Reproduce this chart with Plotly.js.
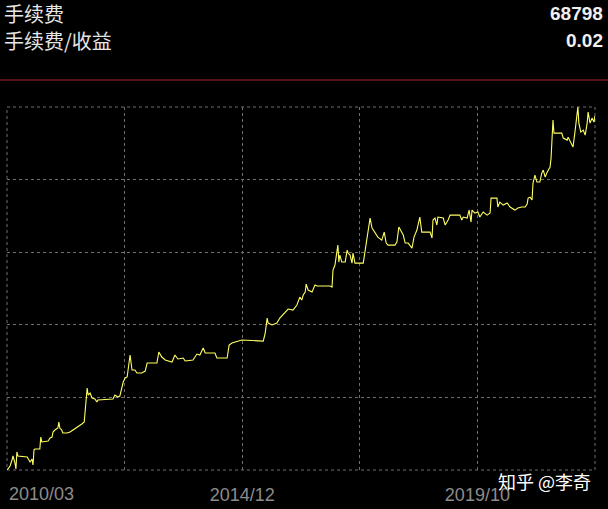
<!DOCTYPE html>
<html>
<head>
<meta charset="utf-8">
<script src="https://cdn.plot.ly/plotly-3.0.1.min.js"></script>
<style>
  html, body { margin: 0; padding: 0; background: #000; }
  #chart { width: 608px; height: 509px; }
</style>
</head>
<body>
<div id="chart"></div>
<script>
// Decimal year of each sample
const years = [2010.17,2010.23,2010.27,2010.29,2010.33,2010.35,2010.37,2010.39,2010.58,2010.64,
2010.68,2010.70,2010.71,2010.72,2010.74,2010.84,2010.86,2010.88,2011.01,2011.05,
2011.09,2011.11,2011.15,2011.21,2011.23,2011.25,2011.29,2011.31,2011.40,2011.46,
2011.52,2011.62,2011.70,2011.75,2011.77,2011.81,2011.83,2011.87,2011.91,2011.97,
2012.01,2012.03,2012.34,2012.38,2012.44,2012.48,2012.55,2012.59,2012.63,2012.69,
2012.73,2012.79,2012.83,2012.93,2013.00,2013.04,2013.24,2013.28,2013.34,2013.41,
2013.55,2013.61,2013.67,2013.78,2013.82,2013.98,2014.06,2014.12,2014.19,2014.23,
2014.43,2014.47,2014.68,2014.72,2014.78,2014.84,2014.98,2015.42,2015.46,2015.50,
2015.52,2015.60,2015.70,2015.76,2015.87,2015.93,2016.03,2016.11,2016.17,2016.21,
2016.24,2016.28,2016.30,2016.34,2016.42,2016.48,2016.52,2016.79,2016.83,2016.85,
2016.89,2016.93,2016.95,2016.97,2016.99,2017.03,2017.10,2017.14,2017.16,2017.20,
2017.24,2017.26,2017.30,2017.47,2017.51,2017.55,2017.57,2017.61,2017.65,2017.71,
2017.77,2017.85,2017.90,2017.94,2017.98,2018.12,2018.16,2018.20,2018.24,2018.29,
2018.33,2018.39,2018.47,2018.51,2018.57,2018.63,2018.67,2018.84,2018.88,2018.90,
2018.94,2018.98,2019.00,2019.11,2019.15,2019.21,2019.25,2019.45,2019.49,2019.52,
2019.60,2019.64,2019.68,2019.70,2019.76,2019.82,2019.86,2019.93,2020.01,2020.07,
2020.09,2020.21,2020.23,2020.27,2020.34,2020.42,2020.48,2020.58,2020.64,2020.72,
2020.79,2020.83,2020.85,2020.89,2020.93,2020.95,2020.99,2021.03,2021.09,2021.13,
2021.16,2021.20,2021.24,2021.30,2021.32,2021.34,2021.36,2021.38,2021.54,2021.57,
2021.65,2021.67,2021.75,2021.77,2021.81,2021.85,2021.87,2021.89,2021.93,2021.98,
2022.02,2022.06,2022.08,2022.12,2022.16,2022.20,2022.22];

// Cumulative fee (手续费)
const fees = [20000,20550,21380,21930,20960,20140,22480,21930,21790,21100,
21510,20690,21650,22750,22890,22890,24540,23860,23990,24410,
24540,25230,25510,25780,26610,25780,25510,25100,25100,25230,
25510,25920,26330,26610,28680,31290,30330,30600,29910,29780,
29360,29640,29780,30330,30050,30190,32120,32670,32810,35840,
33770,33770,33360,33360,33630,34730,34730,36250,35560,35150,
34870,35840,35290,35420,35010,35150,35970,35840,36800,36110,
36110,35420,35420,37210,37490,37630,37900,37760,38860,40930,
40240,39970,40240,40930,41760,42170,42030,42720,43820,43410,
44100,44510,45610,44790,44510,45470,45340,45340,45200,47540,
48230,49880,50980,48640,49610,48640,48640,50290,49880,49610,
48500,49880,48500,48500,50290,51950,53320,54700,53320,52770,
52080,51670,52770,51260,50980,50980,51400,53460,53050,52360,
51260,51260,50570,52080,53050,54840,52770,52770,51950,54430,
54700,53740,54840,54700,53740,54430,55110,55110,54430,54840,
54700,55800,54150,55800,55390,55530,54840,55530,55110,55390,
57450,57450,56220,56900,56490,56770,56220,55800,56080,56220,
56220,56630,57450,57590,57180,59520,60620,59660,59660,60900,
61310,60350,61030,61720,62960,66400,68200,66400,66400,65720,
65440,65850,64750,64480,66540,68610,69990,67780,66540,66820,
66130,67780,69300,67780,68470,67920,68798];

// Axis ticks
const xRange = [2010.167, 2022.221];
const xTickVals = [2010.167, 2012.578, 2014.989, 2017.399, 2019.810, 2022.221];
const xTickText = ['', '', '2014/12', '', '2019/10', ''];
const firstLabel = '2010/03';
const yRange = [20000, 70000];
const yTickVals = [20000, 30000, 40000, 50000, 60000, 70000];

// Header texts
const headerLabels = ['手续费', '手续费/收益'];
const headerValues = ['68798', '0.02'];
const watermark = '知乎 @李奇';

const gridColor = '#6e6e6e';
const gridStyle = { showgrid: true, gridcolor: gridColor, gridwidth: 1, griddash: '3px,3px', zeroline: false, showline: false, ticks: '' };
const cjk = '"Noto Sans CJK SC", "Noto Sans", sans-serif';
const latin = '"Liberation Sans", Arial, sans-serif';

const data = [{
  type: 'scatter', mode: 'lines', x: years, y: fees,
  line: { color: '#ffff60', width: 1.1 }, hoverinfo: 'skip', showlegend: false
}];

const layout = {
  width: 608, height: 509,
  paper_bgcolor: '#000', plot_bgcolor: '#000',
  margin: { l: 7, r: 13, t: 107, b: 39, pad: 0 },
  showlegend: false,
  xaxis: Object.assign({}, gridStyle, {
    range: xRange, tickmode: 'array', tickvals: xTickVals, ticktext: xTickText,
    tickfont: { family: latin, size: 18, color: '#8c8c8c' },
    ticklabelstandoff: 12
  }),
  yaxis: Object.assign({}, gridStyle, {
    range: yRange, tickmode: 'array', tickvals: yTickVals, showticklabels: false
  }),
  shapes: [
    {
      type: 'line', xref: 'paper', yref: 'paper',
      x0: -7 / 588, x1: 601 / 588, y0: 390 / 363, y1: 390 / 363,
      line: { color: '#a8282c', width: 1 }
    },
    {
      type: 'rect', xref: 'paper', yref: 'paper', x0: 0, x1: 1, y0: 0, y1: 1,
      layer: 'below', line: { color: gridColor, width: 1, dash: '3px,3px' }
    }
  ],
  annotations: [
    { text: headerLabels[0], xref: 'paper', yref: 'paper', x: -5 / 588, y: 456 / 363, xanchor: 'left', yanchor: 'middle', showarrow: false, font: { family: cjk, size: 20, color: '#e6e6e6' } },
    { text: headerLabels[1], xref: 'paper', yref: 'paper', x: -5 / 588, y: 430 / 363, xanchor: 'left', yanchor: 'middle', showarrow: false, font: { family: cjk, size: 20, color: '#e6e6e6' } },
    { text: '<b>' + headerValues[0] + '</b>', xref: 'paper', yref: 'paper', x: 598 / 588, y: 457 / 363, xanchor: 'right', yanchor: 'middle', showarrow: false, font: { family: latin, size: 19, color: '#f0f0f0' } },
    { text: '<b>' + headerValues[1] + '</b>', xref: 'paper', yref: 'paper', x: 598 / 588, y: 430 / 363, xanchor: 'right', yanchor: 'middle', showarrow: false, font: { family: latin, size: 19, color: '#f0f0f0' } },
    { text: firstLabel, xref: 'x', yref: 'paper', x: xRange[0], y: -24 / 363, xanchor: 'left', yanchor: 'middle', showarrow: false, font: { family: latin, size: 18, color: '#8c8c8c' } },
    { text: watermark, xref: 'paper', yref: 'paper', x: 537 / 588, y: -11 / 363, xanchor: 'center', yanchor: 'middle', showarrow: false, font: { family: cjk, size: 18, color: '#ffffff' } }
  ]
};

Plotly.newPlot('chart', data, layout, { staticPlot: true, displayModeBar: false });
</script>
</body>
</html>
